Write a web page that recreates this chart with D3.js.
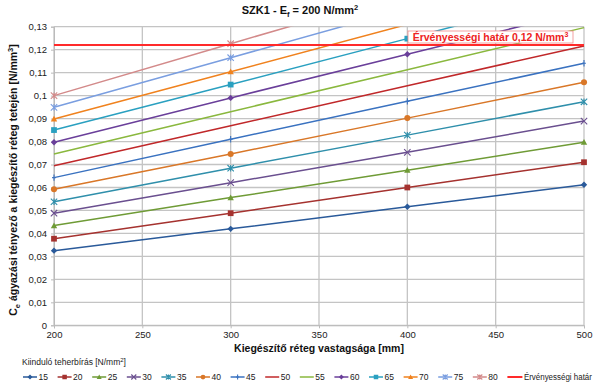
<!DOCTYPE html>
<html>
<head>
<meta charset="utf-8">
<style>
  body { margin: 0; background: #fff; }
  svg { display: block; font-family: Arial, "Liberation Sans", sans-serif; }
  .tick text { font-size: 9.5px; fill: #222; }
</style>
</head>
<body>
<svg width="600" height="388"></svg>
<script src="https://cdn.jsdelivr.net/npm/d3@7"></script>
<script>
// x values (thickness of the extra layer, mm)
const thickness = [200, 300, 400, 500];
// initial bearing capacity series (N/mm2)
const loads = [15, 20, 25, 30, 35, 40, 45, 50, 55, 60, 65, 70, 75, 80];
// Ce values for each series, read at 200/300/400/500 mm
const values = [
  [0.0325, 0.0420, 0.0516, 0.0612],
  [0.0377, 0.0488, 0.0600, 0.0710],
  [0.0434, 0.0556, 0.0675, 0.0797],
  [0.0488, 0.0621, 0.0753, 0.0889],
  [0.0538, 0.0684, 0.0828, 0.0973],
  [0.0592, 0.0746, 0.0902, 0.1058],
  [0.0643, 0.0810, 0.0975, 0.1141],
  [0.0695, 0.0869, 0.1043, 0.1216],
  [0.0746, 0.0930, 0.1113, 0.1296],
  [0.0797, 0.0990, 0.1180, 0.1370],
  [0.0850, 0.1048, 0.1248, 0.1450],
  [0.0898, 0.1104, 0.1310, 0.1520],
  [0.0949, 0.1165, 0.1380, 0.1600],
  [0.1000, 0.1226, 0.1450, 0.1680]
];
const colors = ["#2a5a9a", "#a5322f", "#6f9b36", "#6a4f8f", "#2f8fab", "#d97728",
                "#3a72c0", "#c0282a", "#8ab83e", "#6a3f9a", "#2aa0c0", "#f0821e",
                "#7a9ee0", "#d38a8a"];
const symbols = ["diamond", "square", "triangle", "x", "star", "circle", "plus",
                 "none", "none", "diamond", "square", "triangle", "star", "star"];
const limit = 0.122;
const xTicks = [200, 250, 300, 350, 400, 450, 500];
const yTicks = d3.range(0, 0.131, 0.01);

const svg = d3.select("svg");
const pLeft = 54, pRight = 584, pTop = 26.7, pBottom = 325.3;

const x = d3.scaleLinear().domain([200, 500]).range([pLeft, pRight]);
const y = d3.scaleLinear().domain([0, 0.13]).range([pBottom, pTop]);

svg.append("defs").append("clipPath").attr("id", "plot")
  .append("rect").attr("x", pLeft - 6).attr("y", pTop).attr("width", pRight - pLeft + 12).attr("height", pBottom - pTop);

// grid
svg.append("g").selectAll("line").data(yTicks).join("line")
  .attr("x1", pLeft).attr("x2", pRight)
  .attr("y1", d => y(d)).attr("y2", d => y(d))
  .attr("stroke", "#c4c4c4").attr("stroke-width", 1.3);
svg.append("g").selectAll("line").data(xTicks).join("line")
  .attr("x1", d => x(d)).attr("x2", d => x(d))
  .attr("y1", pTop).attr("y2", pBottom)
  .attr("stroke", "#c4c4c4").attr("stroke-width", 1.3);

// axes
const fmt = d => d === 0 ? "0" : d3.format(".2~f")(d).replace(".", ",");
const yAxis = svg.append("g").attr("transform", `translate(${pLeft},0)`)
  .call(d3.axisLeft(y).tickValues(yTicks).tickFormat(fmt).tickSize(3).tickPadding(4));
yAxis.select(".domain").attr("stroke", "#bbb");
yAxis.selectAll(".tick line").attr("stroke", "#bbb");
const xAxis = svg.append("g").attr("transform", `translate(0,${pBottom})`)
  .call(d3.axisBottom(x).tickValues(xTicks).tickSize(3).tickPadding(3));
xAxis.select(".domain").attr("stroke", "#bbb");
xAxis.selectAll(".tick line").attr("stroke", "#bbb");

function marker(g, type, color, size) {
  const s = size;
  if (type === "diamond") {
    g.append("path").attr("d", `M0,${-s}L${s},0L0,${s}L${-s},0Z`).attr("fill", color);
  } else if (type === "square") {
    g.append("rect").attr("x", -s * 0.9).attr("y", -s * 0.9).attr("width", s * 1.8).attr("height", s * 1.8).attr("fill", color);
  } else if (type === "triangle") {
    g.append("path").attr("d", `M0,${-s}L${s},${s * 0.8}L${-s},${s * 0.8}Z`).attr("fill", color);
  } else if (type === "circle") {
    g.append("circle").attr("r", s * 0.95).attr("fill", color);
  } else if (type === "x") {
    g.append("path").attr("d", `M${-s},${-s}L${s},${s}M${-s},${s}L${s},${-s}`).attr("stroke", color).attr("stroke-width", 1.1);
  } else if (type === "star") {
    g.append("path").attr("d", `M${-s},${-s}L${s},${s}M${-s},${s}L${s},${-s}M0,${-s}L0,${s}`).attr("stroke", color).attr("stroke-width", 1.1);
  } else if (type === "plus") {
    g.append("path").attr("d", `M0,${-s}L0,${s}M${-s * 0.6},0L${s * 0.6},0`).attr("stroke", color).attr("stroke-width", 1.1);
  }
}

const line = d3.line().x((d, i) => x(thickness[i])).y(d => y(d));
const plot = svg.append("g").attr("clip-path", "url(#plot)");
values.forEach((vals, si) => {
  plot.append("path").attr("d", line(vals))
    .attr("fill", "none").attr("stroke", colors[si]).attr("stroke-width", 1.5);
  vals.forEach((v, i) => {
    if (v > 0.13) return;
    const g = plot.append("g").attr("transform", `translate(${x(thickness[i])},${y(v)})`);
    marker(g, symbols[si], colors[si], 3.2);
  });
});

// validity limit
svg.append("line").attr("x1", pLeft).attr("x2", pRight)
  .attr("y1", y(limit)).attr("y2", y(limit))
  .attr("stroke", "#ff2a2a").attr("stroke-width", 2);
const lbl = svg.append("g");
lbl.append("rect").attr("x", 408).attr("y", 31).attr("width", 165).attr("height", 12)
  .attr("fill", "#fff").attr("stroke", "#f08a8a").attr("stroke-width", 0.8);
const lt = lbl.append("text").attr("x", 490.5).attr("y", 41).attr("text-anchor", "middle")
  .attr("font-size", 10.5).attr("font-weight", "bold").attr("fill", "#ee2222");
lt.append("tspan").text("Érvényességi határ 0,12 N/mm");
lt.append("tspan").attr("font-size", 7).attr("dy", -4).text("3");

// title
const title = svg.append("text").attr("x", 300).attr("y", 14).attr("text-anchor", "middle")
  .attr("font-size", 11).attr("font-weight", "bold").attr("fill", "#111");
title.append("tspan").text("SZK1 - E");
title.append("tspan").attr("font-size", 7.5).attr("dy", 3).text("f");
title.append("tspan").attr("dy", -3).text(" = 200 N/mm");
title.append("tspan").attr("font-size", 7.5).attr("dy", -4).text("2");

// axis titles
svg.append("text").attr("x", 319).attr("y", 352).attr("text-anchor", "middle")
  .attr("font-size", 10.5).attr("font-weight", "bold").attr("fill", "#111")
  .text("Kiegészítő réteg vastagsága [mm]");
const yt = svg.append("text").attr("transform", `translate(17,180) rotate(-90)`)
  .attr("text-anchor", "middle").attr("font-size", 10.5).attr("font-weight", "bold").attr("fill", "#111");
yt.append("tspan").text("C");
yt.append("tspan").attr("font-size", 7.5).attr("dy", 3).text("e");
yt.append("tspan").attr("dy", -3).text(" ágyazási tényező a kiegészítő réteg tetején [N/mm");
yt.append("tspan").attr("font-size", 7.5).attr("dy", -4).text("3");
yt.append("tspan").attr("dy", 4).text("]");

// legend
const lg = svg.append("g");
const lh = lg.append("text").attr("x", 22).attr("y", 365).attr("font-size", 8.5).attr("fill", "#222");
lh.append("tspan").text("Kiinduló teherbírás [N/mm");
lh.append("tspan").attr("font-size", 6).attr("dy", -3).text("2");
lh.append("tspan").attr("dy", 3).text("]");

const step = 34.6;
loads.forEach((ld, i) => {
  const g = lg.append("g").attr("transform", `translate(${23 + i * step},377)`);
  g.append("line").attr("x1", 0).attr("x2", 14).attr("stroke", colors[i]).attr("stroke-width", 1.5);
  const m = g.append("g").attr("transform", "translate(7,0)");
  marker(m, symbols[i], colors[i], 2.5);
  g.append("text").attr("x", 15.5).attr("y", 3).attr("font-size", 8.5).attr("fill", "#222").text(ld);
});
const lv = lg.append("g").attr("transform", `translate(${23 + 14 * step},377)`);
lv.append("line").attr("x1", 0).attr("x2", 15).attr("stroke", "#ff2a2a").attr("stroke-width", 2);
lv.append("text").attr("x", 16.5).attr("y", 3).attr("font-size", 8.5).attr("fill", "#222")
  .attr("textLength", 68).attr("lengthAdjust", "spacingAndGlyphs").text("Érvényességi határ");
</script>
</body>
</html>
